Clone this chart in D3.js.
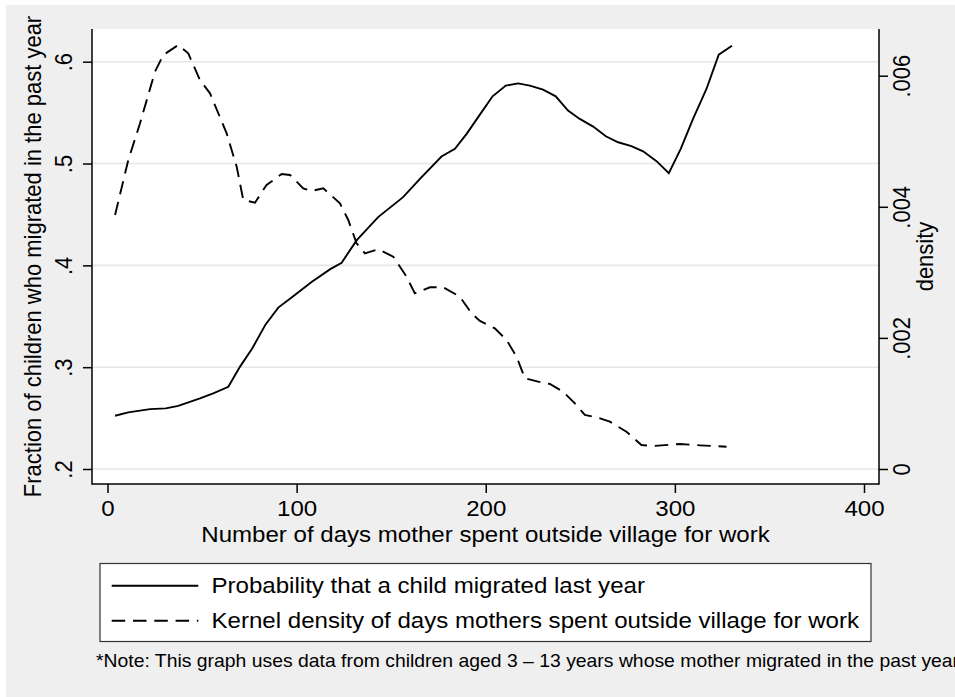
<!DOCTYPE html>
<html>
<head>
<meta charset="utf-8">
<script src="https://cdn.jsdelivr.net/npm/d3@7"></script>
<style>
  html, body { margin: 0; padding: 0; background: #ffffff; }
  svg { display: block; font-family: "Liberation Sans", Arial, Helvetica, sans-serif; }
</style>
</head>
<body>
<svg id="chart" width="955" height="697"></svg>
<script>
// ---------- data ----------
const probDays = [4, 11, 22.5, 30.8, 37.4, 48.9, 55.9, 63.9, 70, 76.5, 83.6, 90.3, 98.2, 107.9, 117.6, 123.8,
  131.7, 143.1, 156.3, 165.2, 176.6, 183.7, 189.9, 196.9, 203.6, 210.6, 217.1, 223.3, 230.3, 237, 243.5,
  249.7, 256.8, 263.5, 270, 277, 283.2, 290.3, 296.8, 303.1, 309.6, 316.7, 323.2, 330.2];
const probValues = [0.2523, 0.2556, 0.2588, 0.2595, 0.262, 0.2693, 0.2742, 0.2807, 0.3003, 0.3183, 0.342, 0.3585,
  0.3696, 0.3837, 0.396, 0.4026, 0.4245, 0.4474, 0.467, 0.485, 0.5069, 0.5144, 0.5291, 0.548, 0.566, 0.5765,
  0.5787, 0.5765, 0.5725, 0.566, 0.552, 0.5438, 0.5363, 0.5268, 0.5209, 0.517, 0.512, 0.5023, 0.4905, 0.5144,
  0.5438, 0.5732, 0.6069, 0.6157];

const densDays = [4, 11, 17.2, 25.1, 29.5, 37.4, 42.7, 48.9, 54.2, 63, 68.3, 71.8, 78, 84.1, 92.1, 96.5, 103.5,
  107.9, 114.1, 122.9, 127.3, 131.7, 136.1, 143.1, 151.1, 158.1, 162.5, 170.5, 177.5, 186.3, 192.5, 196.9,
  204.8, 211, 216.3, 220.7, 227.7, 233.9, 240.9, 247.1, 252.4, 259.4, 265.6, 274.4, 282.3, 288.5, 302.6,
  313.2, 327.3];
const densValues = [0.003875, 0.004714, 0.005274, 0.006061, 0.006316, 0.006468, 0.006341, 0.005934, 0.005731,
  0.005121, 0.004612, 0.004104, 0.004063, 0.004333, 0.0045, 0.004485, 0.004282, 0.004241, 0.004282, 0.004053,
  0.003799, 0.003443, 0.00329, 0.003352, 0.003239, 0.002934, 0.00268, 0.002772, 0.002772, 0.002629, 0.002375,
  0.00226, 0.002146, 0.001968, 0.001713, 0.001384, 0.001332, 0.001297, 0.001179, 0.001002, 0.000824, 0.000783,
  0.000722, 0.000569, 0.000366, 0.000351, 0.000381, 0.000361, 0.00034];

const xTicks = [0, 100, 200, 300, 400];
const xTickLabels = ["0", "100", "200", "300", "400"];
const yLeftTicks = [0.2, 0.3, 0.4, 0.5, 0.6];
const yLeftTickLabels = [".2", ".3", ".4", ".5", ".6"];
const yRightTicks = [0, 0.002, 0.004, 0.006];
const yRightTickLabels = ["0", ".002", ".004", ".006"];

const xTitle = "Number of days mother spent outside village for work";
const yLeftTitle = "Fraction of children who migrated in the past year";
const yRightTitle = "density";
const legendLabels = ["Probability that a child migrated last year",
  "Kernel density of days mothers spent outside village for work"];
const noteText = "*Note: This graph uses data from children aged 3 \u2013 13 years whose mother migrated in the past year";

// ---------- layout ----------
const W = 955, H = 697;
const plot = { left: 92, right: 879, top: 29, bottom: 484 };
const FS = 22;        // main font size
const SX = 1.095;     // horizontal stretch of the source image
const NOTE_FS = 17.7;
const BG = "#efefef";
const GRID = "#e6e6e6";
const DASH = "13.5,7.8";

const svg = d3.select("#chart");

const x = d3.scaleLinear().domain([0, 400]).range([107.5, 864]);
const yL = d3.scaleLinear().domain([0.2, 0.6]).range([469, 61.7]);
const yR = d3.scaleLinear().domain([0, 0.006]).range([469, 75.7]);

// backgrounds
svg.append("rect").attr("x", 0).attr("y", 0).attr("width", W).attr("height", H).attr("fill", "#ffffff");
svg.append("rect").attr("x", 6).attr("y", 5).attr("width", W - 6).attr("height", H - 5).attr("fill", BG);
svg.append("rect").attr("x", plot.left).attr("y", plot.top)
  .attr("width", plot.right - plot.left).attr("height", plot.bottom - plot.top).attr("fill", "#ffffff");

// gridlines
svg.append("g").selectAll("line").data(yLeftTicks).join("line")
  .attr("x1", plot.left).attr("x2", plot.right)
  .attr("y1", d => yL(d)).attr("y2", d => yL(d))
  .attr("stroke", GRID).attr("stroke-width", 1.6);

// axes
const xAxis = svg.append("g").attr("transform", `translate(0,${plot.bottom})`)
  .call(d3.axisBottom(x).tickValues(xTicks).tickSize(9)
    .tickFormat((d, i) => xTickLabels[i]));
xAxis.select(".domain").remove();
xAxis.selectAll("line").attr("stroke", "#000").attr("stroke-width", 1.5);
xAxis.selectAll("text").attr("font-size", FS).attr("fill", "#000").attr("font-family", null)
  .attr("y", null).attr("dy", null).attr("text-anchor", "middle")
  .attr("transform", `translate(0,32) scale(${SX},1)`);

const yAxisL = svg.append("g").attr("transform", `translate(${plot.left},0)`)
  .call(d3.axisLeft(yL).tickValues(yLeftTicks).tickSize(9)
    .tickFormat((d, i) => yLeftTickLabels[i]));
yAxisL.select(".domain").remove();
yAxisL.selectAll("line").attr("stroke", "#000").attr("stroke-width", 1.5);
yAxisL.selectAll("text").attr("font-size", FS).attr("fill", "#000").attr("font-family", null)
  .attr("x", null).attr("dy", null).attr("text-anchor", "middle")
  .attr("transform", `translate(-20.5,0) scale(${SX},1) rotate(-90)`);

const yAxisR = svg.append("g").attr("transform", `translate(${plot.right},0)`)
  .call(d3.axisRight(yR).tickValues(yRightTicks).tickSize(9)
    .tickFormat((d, i) => yRightTickLabels[i]));
yAxisR.select(".domain").remove();
yAxisR.selectAll("line").attr("stroke", "#000").attr("stroke-width", 1.5);
yAxisR.selectAll("text").attr("font-size", FS).attr("fill", "#000").attr("font-family", null)
  .attr("x", null).attr("dy", null).attr("text-anchor", "middle")
  .attr("transform", `translate(31,0) scale(${SX},1) rotate(-90)`);

// axis lines (plot box sides)
svg.append("line").attr("x1", plot.left).attr("x2", plot.left).attr("y1", plot.top).attr("y2", plot.bottom + 0.75)
  .attr("stroke", "#000").attr("stroke-width", 1.5);
svg.append("line").attr("x1", plot.right).attr("x2", plot.right).attr("y1", plot.top).attr("y2", plot.bottom + 0.75)
  .attr("stroke", "#000").attr("stroke-width", 1.5);
svg.append("line").attr("x1", plot.left).attr("x2", plot.right).attr("y1", plot.bottom).attr("y2", plot.bottom)
  .attr("stroke", "#000").attr("stroke-width", 1.5);

// titles
const cy = (plot.top + plot.bottom) / 2;
svg.append("text").attr("transform", `translate(${(plot.left + plot.right) / 2},542) scale(${SX},1)`)
  .attr("text-anchor", "middle").attr("font-size", FS).attr("fill", "#000").text(xTitle);
svg.append("text").attr("transform", `translate(41,${cy}) scale(${SX},1) rotate(-90)`)
  .attr("text-anchor", "middle").attr("font-size", FS).attr("fill", "#000").text(yLeftTitle);
svg.append("text").attr("transform", `translate(933,${cy}) scale(${SX},1) rotate(-90)`)
  .attr("text-anchor", "middle").attr("font-size", FS).attr("fill", "#000").text(yRightTitle);

// data lines
const probData = probDays.map((d, i) => [d, probValues[i]]);
const densData = densDays.map((d, i) => [d, densValues[i]]);

svg.append("path").datum(densData)
  .attr("d", d3.line().x(d => x(d[0])).y(d => yR(d[1])))
  .attr("fill", "none").attr("stroke", "#000").attr("stroke-width", 1.9)
  .attr("stroke-dasharray", DASH);

svg.append("path").datum(probData)
  .attr("d", d3.line().x(d => x(d[0])).y(d => yL(d[1])))
  .attr("fill", "none").attr("stroke", "#000").attr("stroke-width", 1.9);

// legend
const lg = svg.append("g");
lg.append("rect").attr("x", 100).attr("y", 563.5).attr("width", 771).attr("height", 78)
  .attr("fill", "#ffffff").attr("stroke", "#333").attr("stroke-width", 1.2);
const legendStyles = [null, DASH];
const legendY = [585.7, 620.7];
legendLabels.forEach((lab, i) => {
  lg.append("line").attr("x1", 111.7).attr("x2", 198.3).attr("y1", legendY[i]).attr("y2", legendY[i])
    .attr("stroke", "#000").attr("stroke-width", 1.9)
    .attr("stroke-dasharray", legendStyles[i]);
  lg.append("text").attr("transform", `translate(211.5,${legendY[i] + 7.7}) scale(${SX},1)`)
    .attr("font-size", FS).attr("fill", "#000").text(lab);
});

// note
svg.append("text").attr("transform", `translate(96,667.3) scale(${SX},1)`)
  .attr("font-size", NOTE_FS).attr("fill", "#000").text(noteText);
</script>
</body>
</html>
